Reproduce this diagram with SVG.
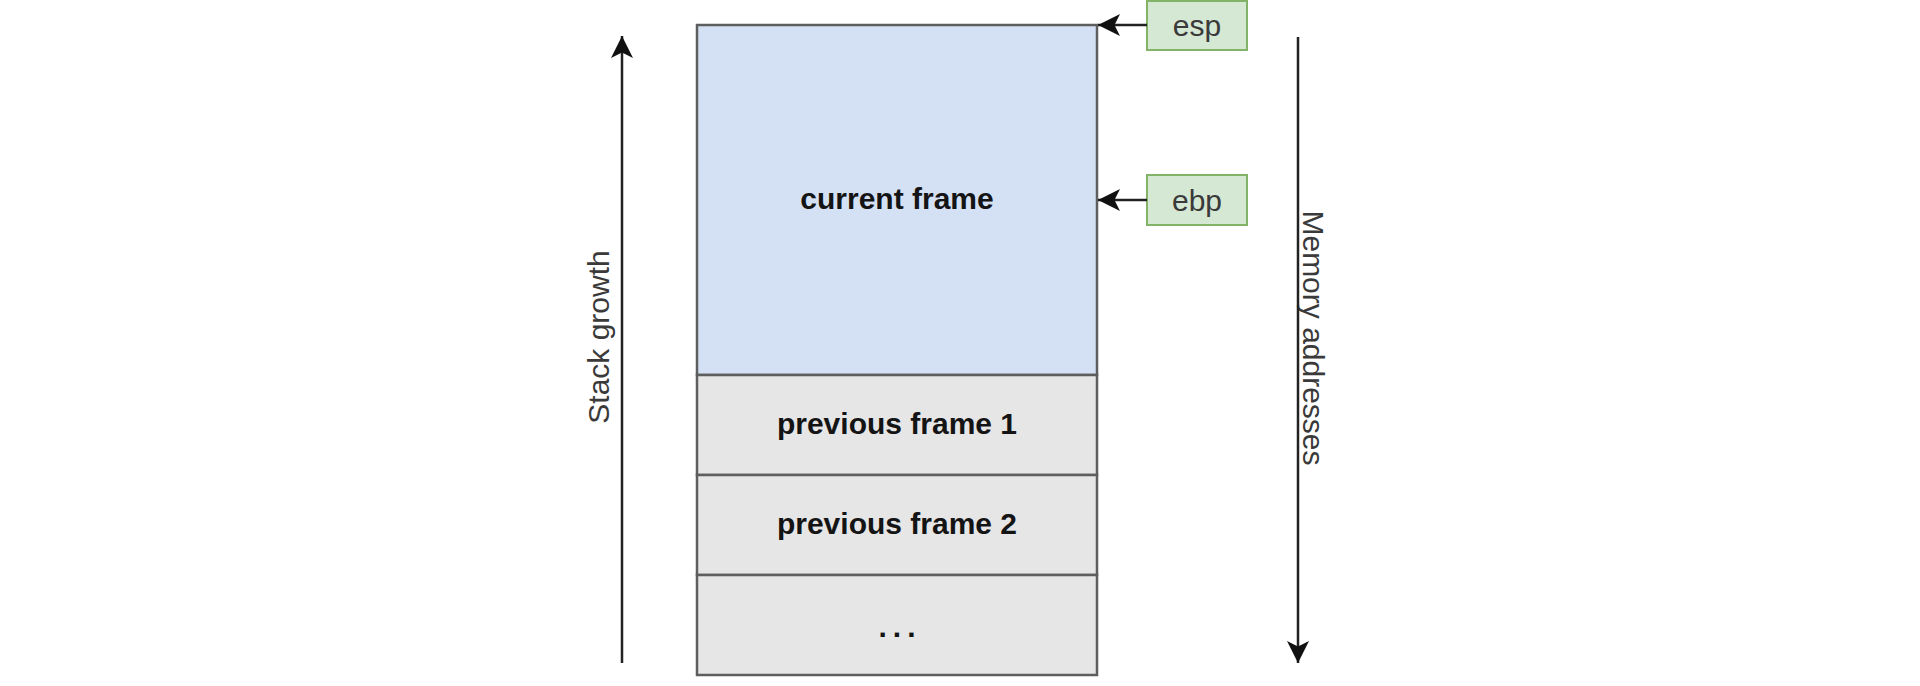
<svg xmlns="http://www.w3.org/2000/svg" width="1920" height="686" viewBox="0 0 1920 686">
  <style>
    .frame { stroke: #5e5e5e; stroke-width: 2.5; }
    .cur { fill: #d4e1f5; }
    .prev { fill: #e6e6e6; }
    .reg { fill: #d5e8d4; stroke: #82b366; stroke-width: 2; }
    .bold { font-family: "Liberation Sans", Arial, sans-serif; font-size: 30px; font-weight: bold; fill: #141414; text-anchor: middle; }
    .lbl { font-family: "Liberation Sans", Arial, sans-serif; font-size: 30px; fill: #3a3a3a; text-anchor: middle; }
    .conn { stroke: #222; stroke-width: 2.5; fill: none; }
  </style>
  <defs>
    <marker id="arrow" markerUnits="userSpaceOnUse" viewBox="0 0 22 22" refX="22" refY="11" markerWidth="22" markerHeight="22" orient="auto">
      <path d="M22 11 L0 0 L5.5 11 L0 22 Z" fill="#111"/>
    </marker>
  </defs>
  <rect width="1920" height="686" fill="#ffffff"/>

  <g id="current-frame">
    <rect class="frame cur" x="697" y="25" width="400" height="350"/>
    <text class="bold" x="897" y="209">current frame</text>
  </g>
  <g id="previous-frame-1">
    <rect class="frame prev" x="697" y="375" width="400" height="100"/>
    <text class="bold" x="897" y="434">previous frame 1</text>
  </g>
  <g id="previous-frame-2">
    <rect class="frame prev" x="697" y="475" width="400" height="100"/>
    <text class="bold" x="897" y="534">previous frame 2</text>
  </g>
  <g id="more-frames">
    <rect class="frame prev" x="697" y="575" width="400" height="100"/>
    <text class="bold" x="900" y="637" letter-spacing="6">...</text>
  </g>
  <g id="esp">
    <rect class="reg" x="1147" y="1" width="100" height="49"/>
    <text class="lbl" x="1197" y="36">esp</text>
  </g>
  <g id="ebp">
    <rect class="reg" x="1147" y="175" width="100" height="50"/>
    <text class="lbl" x="1197" y="211">ebp</text>
  </g>
  <g id="stack-growth-label">
    <text class="lbl" transform="translate(609 337) rotate(-90)" x="0" y="0">Stack growth</text>
  </g>
  <g id="memory-addresses-label">
    <text class="lbl" transform="translate(1303 338) rotate(90)" x="0" y="0">Memory addresses</text>
  </g>

  <g id="connectors">
    <line class="conn" x1="1147" y1="25" x2="1098" y2="25" marker-end="url(#arrow)"/>
    <line class="conn" x1="1147" y1="200" x2="1098" y2="200" marker-end="url(#arrow)"/>
    <line class="conn" x1="622" y1="663" x2="622" y2="36" marker-end="url(#arrow)"/>
    <line class="conn" x1="1298" y1="37" x2="1298" y2="663" marker-end="url(#arrow)"/>
  </g>
</svg>
